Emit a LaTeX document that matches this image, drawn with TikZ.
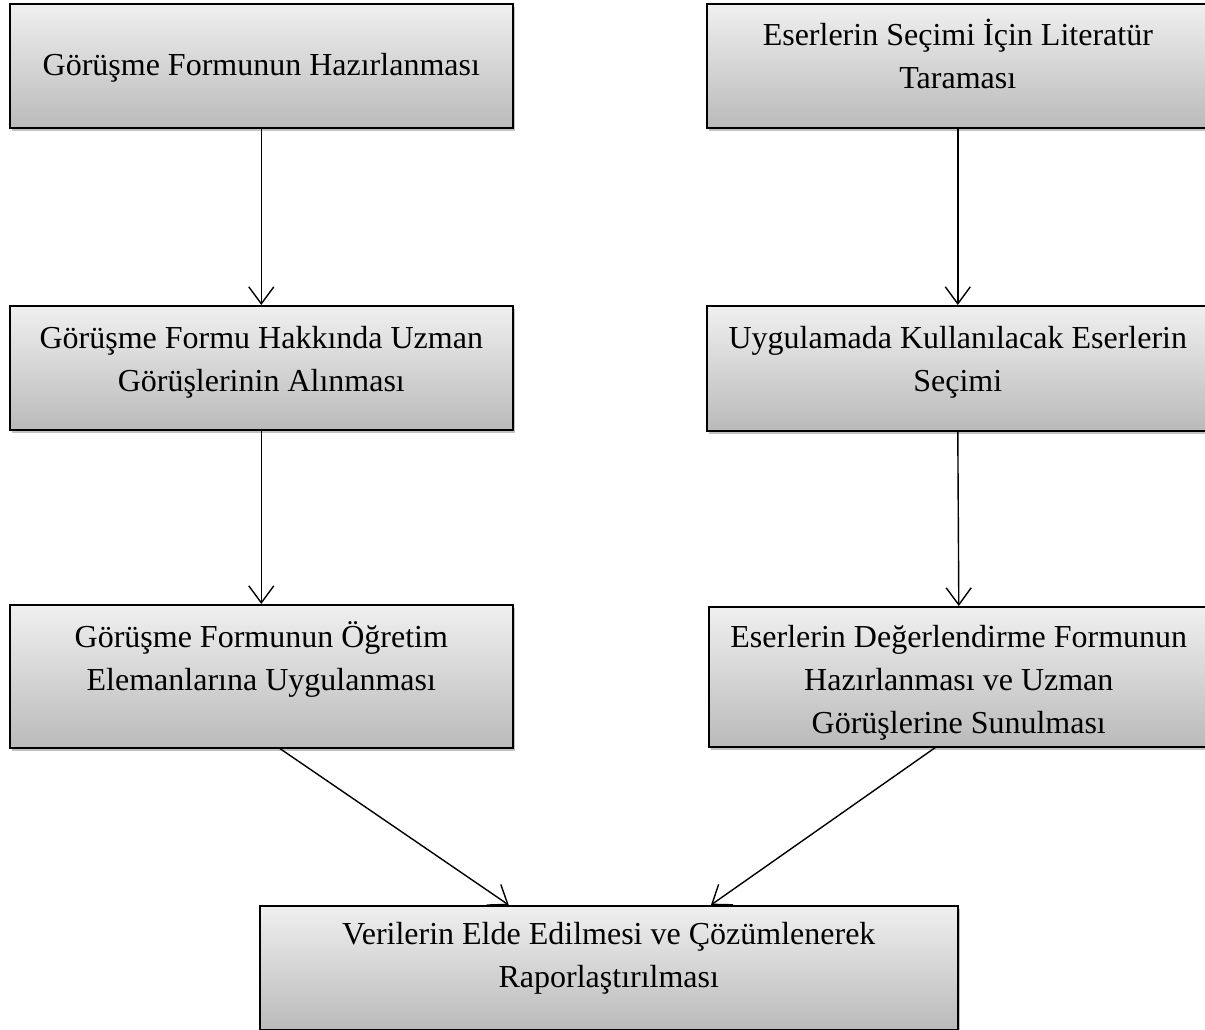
\documentclass[tikz,border=0pt]{standalone}
\usepackage{fontspec}
\setmainfont{Liberation Serif}
\usetikzlibrary{arrows.meta,shadows,calc}
\begin{document}
\begin{tikzpicture}[x=1pt,y=-1pt,
  box/.style={draw=black, line width=1.6pt, top color=black!6, bottom color=black!27,
    drop shadow={shadow xshift=2pt,shadow yshift=-3pt,opacity=0.4,fill=black!60},
    inner sep=0pt, anchor=north west},
  txt/.style={font=\fontsize{32}{43}\selectfont, align=center, inner sep=0pt, anchor=base},
  arr/.style={line width=1.4pt, -{Straight Barb[length=17pt,width=25pt,line width=1.4pt]}}]
\useasboundingbox (0,0) rectangle (1205,1030);

\node[box, minimum width=503pt, minimum height=124pt] (b1) at (9,3) {};
\node[box, minimum width=502pt, minimum height=124pt] (b2) at (706,3) {};
\node[box, minimum width=503pt, minimum height=124pt] (b3) at (9,305) {};
\node[box, minimum width=502pt, minimum height=125pt] (b4) at (706,305) {};
\node[box, minimum width=503pt, minimum height=143pt] (b5) at (9,604) {};
\node[box, minimum width=500pt, minimum height=140pt] (b6) at (708,606) {};
\node[box, minimum width=698pt, minimum height=124pt] (b7) at (259,905) {};

\node[txt] (t1) at ($(b1.north)+(0,73)$) {Görüşme Formunun Hazırlanması};
\node[txt] (t2) at ($(b2.north)+(0,86)$) {Eserlerin Seçimi İçin Literatür\\Taraması};
\node[txt] (t3) at ($(b3.north)+(0,86)$) {Görüşme Formu Hakkında Uzman\\Görüşlerinin Alınması};
\node[txt] (t4) at ($(b4.north)+(0,86)$) {Uygulamada Kullanılacak Eserlerin\\Seçimi};
\node[txt] (t5) at ($(b5.north)+(0,86)$) {Görüşme Formunun Öğretim\\Elemanlarına Uygulanması};
\node[txt] (t6) at ($(b6.north)+(0,127)$) {Eserlerin Değerlendirme Formunun\\Hazırlanması ve Uzman\\Görüşlerine Sunulması};
\node[txt] (t7) at ($(b7.north)+(0,82)$) {Verilerin Elde Edilmesi ve Çözümlenerek\\Raporlaştırılması};

\draw[arr] (b1.south) -- (b3.north);
\draw[arr] (b3.south) -- (b5.north);
\draw[arr] (b2.south) -- (b4.north);
\draw[arr] (b4.south) -- (b6.north);
\draw[arr] ($(b5.south west)!0.537!(b5.south east)$) -- ($(b7.north west)!0.357!(b7.north east)$);
\draw[arr] ($(b6.south west)!0.453!(b6.south east)$) -- ($(b7.north west)!0.646!(b7.north east)$);
\end{tikzpicture}
\end{document}
